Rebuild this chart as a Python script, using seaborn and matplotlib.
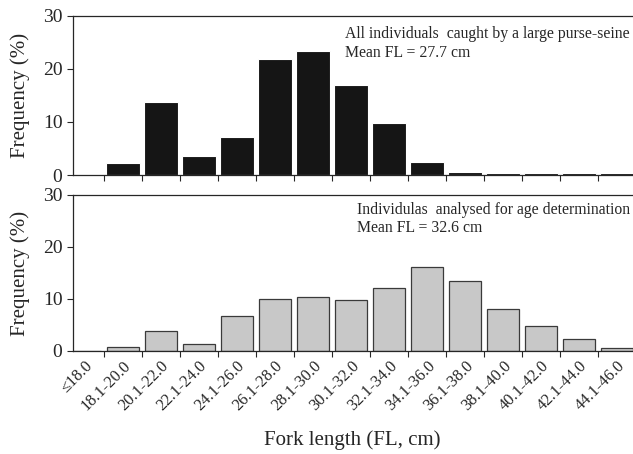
import numpy as np
import pandas as pd
import matplotlib
matplotlib.use('Agg')
import matplotlib.pyplot as plt
import seaborn as sns

# ==================== data ====================
size_classes = ['≤18.0', '18.1-20.0', '20.1-22.0', '22.1-24.0', '24.1-26.0',
                '26.1-28.0', '28.1-30.0', '30.1-32.0', '32.1-34.0', '34.1-36.0',
                '36.1-38.0', '38.1-40.0', '40.1-42.0', '42.1-44.0', '44.1-46.0']
freq_catch = [0.0, 2.2, 13.8, 3.5, 7.1, 21.9, 23.3, 17.0, 9.8, 2.5,
              0.6, 0.3, 0.3, 0.3, 0.3]
freq_aged = [0.0, 0.7, 3.9, 1.3, 6.7, 10.0, 10.3, 9.9, 12.2, 16.1,
             13.4, 8.1, 4.8, 2.4, 0.5]
yticks = [0, 10, 20, 30]

label_catch = 'All individuals  caught by a large purse-seine\nMean FL = 27.7 cm'
label_aged = 'Individulas  analysed for age determination\nMean FL = 32.6 cm'

df = pd.DataFrame({'cls': size_classes, 'catch': freq_catch, 'aged': freq_aged})

sns.set_style('ticks')
plt.rcParams['font.family'] = ['Liberation Serif', 'DejaVu Serif']
plt.rcParams['axes.linewidth'] = 0.9
plt.rcParams['xtick.major.width'] = 0.8
plt.rcParams['ytick.major.width'] = 0.8

fig = plt.figure(figsize=(6.33, 4.54), dpi=100)
ax1 = fig.add_axes([0.115, 0.6145, 0.885, 0.3505])
ax2 = fig.add_axes([0.115, 0.2269, 0.885, 0.3436])

sns.barplot(data=df, x='cls', y='catch', order=size_classes, color='#151515',
            width=0.9, edgecolor='white', linewidth=0.8, saturation=1, ax=ax1)
sns.barplot(data=df, x='cls', y='aged', order=size_classes, color='#c8c8c8',
            width=0.86, edgecolor='#3a3a3a', linewidth=0.9, saturation=1, ax=ax2)

n = len(size_classes)
bounds = np.arange(n) - 0.5
for ax, txt, ty in [(ax1, label_catch, 0.935), (ax2, label_aged, 0.955)]:
    ax.set_xlim(-0.32, 14.42)
    ax.set_ylim(0, 30)
    ax.set_yticks(yticks)
    ax.set_yticklabels([str(v) for v in yticks], fontsize=14)
    ax.set_ylabel('Frequency (%)', fontsize=15, labelpad=9)
    ax.set_xlabel('')
    ax.set_xticks(bounds[1:])
    ax.set_xticklabels([])
    ax.set_xticks(np.arange(n), minor=True)
    ax.tick_params(axis='x', which='minor', length=0)
    ax.tick_params(axis='both', which='major', direction='out', length=4)
    ax.spines['right'].set_visible(False)
    ax.text(0.994, ty, txt, transform=ax.transAxes, fontsize=11.3,
            va='top', ha='right', multialignment='left', linespacing=1.2)

ax1.set_xticklabels([], minor=True)
ax2.set_xticklabels(size_classes, minor=True, rotation=45, ha='right',
                    rotation_mode='anchor', fontsize=11.8)
ax2.tick_params(axis='x', which='minor', pad=5)
fig.text(0.557, 0.02, 'Fork length (FL, cm)', ha='center', fontsize=15)

fig.savefig('out.png', dpi=100)
plt.close(fig)
